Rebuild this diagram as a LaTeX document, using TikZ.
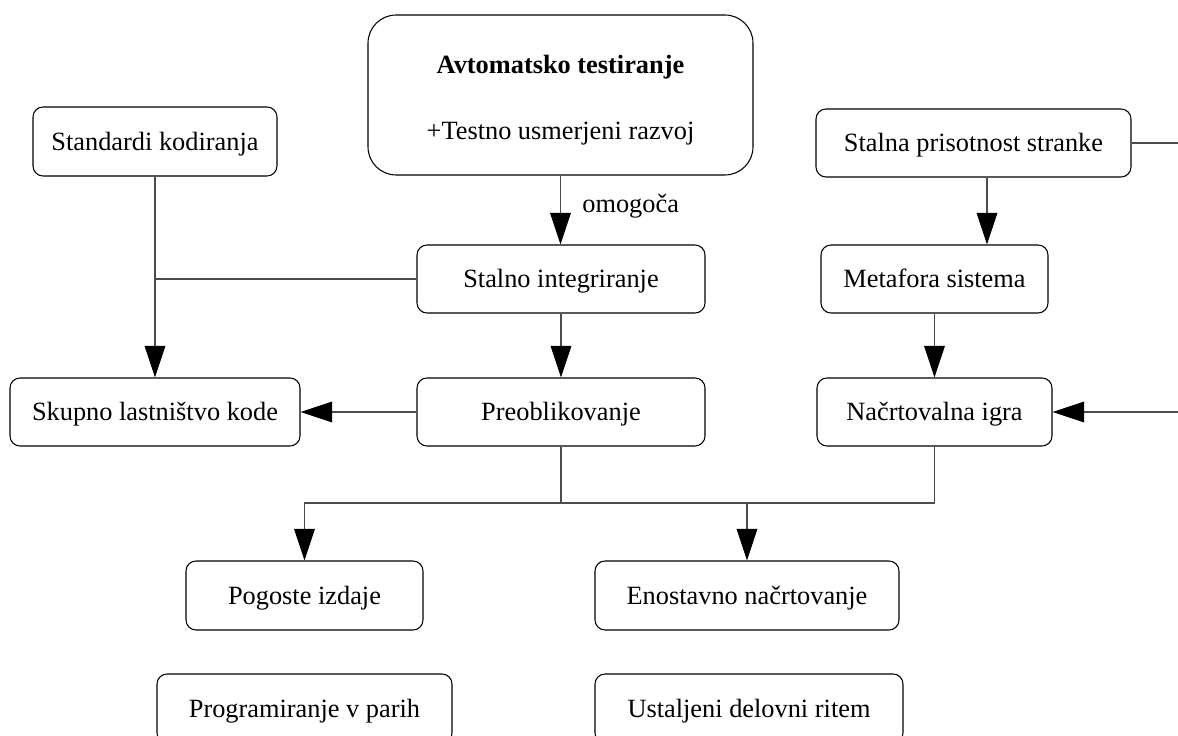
\documentclass[tikz,border=0pt]{standalone}
\usepackage{fontspec}
\setmainfont{Liberation Serif}
\usetikzlibrary{arrows.meta}
% one drawing unit = 0.02cm
\newcommand\upx{0.02cm}
\begin{document}
\begin{tikzpicture}[x=0.02cm, y=-0.02cm,
  box/.style={draw=black, line width=0.6pt, rounded corners=5.7pt,
    font=\fontsize{15}{18}\selectfont, text height=12pt, text depth=2pt,
    inner sep=0pt, minimum height=68*\upx},
  topbox/.style={draw=black, line width=0.6pt, rounded corners=16pt,
    font=\fontsize{15}{37.4}\selectfont, align=center, inner sep=0pt,
    minimum width=385*\upx, minimum height=160*\upx},
  link/.style={draw=black!70, line width=0.6pt},
  arr/.style={link, -{Triangle[length=18pt, width=11.8pt, color=black]}}
]
\path[use as bounding box] (0,0) rectangle (1178,736);
\clip (0,0) rectangle (1178,736);

% boxes
\node[topbox] (auto) at (560.5,95)
  {\rule{0pt}{16pt}\textbf{Avtomatsko testiranje}\\+Testno usmerjeni razvoj};
\node[box, minimum width=244*\upx, minimum height=69*\upx] (std) at (155,141.5) {Standardi kodiranja};
\node[box, minimum width=288*\upx] (stint) at (561,279) {Stalno integriranje};
\node[box, minimum width=288*\upx] (preob) at (561,412) {Preoblikovanje};
\node[box, minimum width=290*\upx] (skup) at (155,412) {Skupno lastništvo kode};
\node[box, minimum width=315*\upx] (stalna) at (973.5,143) {Stalna prisotnost stranke};
\node[box, minimum width=227*\upx] (meta) at (934.5,279) {Metafora sistema};
\node[box, minimum width=235*\upx] (nacrt) at (934.5,412) {Načrtovalna igra};
\node[box, minimum width=237*\upx, minimum height=69*\upx] (pog) at (304.5,595.5) {Pogoste izdaje};
\node[box, minimum width=304*\upx, minimum height=69*\upx] (enost) at (747,595.5) {Enostavno načrtovanje};
\node[box, minimum width=295*\upx, minimum height=69*\upx] (prog) at (304.5,708.5) {Programiranje v parih};
\node[box, minimum width=308*\upx, minimum height=69*\upx] (ustal) at (749,708.5) {Ustaljeni delovni ritem};

% connector helpers
\coordinate (eastTop) at (1178,143);
\coordinate (eastMid) at (1178,412);
\coordinate (drop) at (987,0);
\coordinate (bus) at (561,503);

% connectors
\draw[arr] (auto.south) -- (auto.south |- stint.north);
\node[anchor=base west, inner sep=0pt, font=\fontsize{15}{18}\selectfont] (lbl) at (582,213) {omogoča};
\draw[arr] (std.south) -- (skup.north);
\draw[link] (stint.west) -- (stint.west -| std.south);
\draw[arr] (stint.south) -- (preob.north);
\draw[arr] (preob.west) -- (skup.east);
\draw[link] (stalna.east) -- (eastTop);
\draw[arr] (stalna.south -| drop) -- (meta.north -| drop);
\draw[arr] (meta.south) -- (nacrt.north);
\draw[arr] (eastMid) -- (nacrt.east);
\draw[arr] (preob.south) -- (bus) -| (pog.north);
\draw[link] (nacrt.south) |- (bus);
\draw[arr] (bus -| enost.north) -- (enost.north);
\end{tikzpicture}
\end{document}
